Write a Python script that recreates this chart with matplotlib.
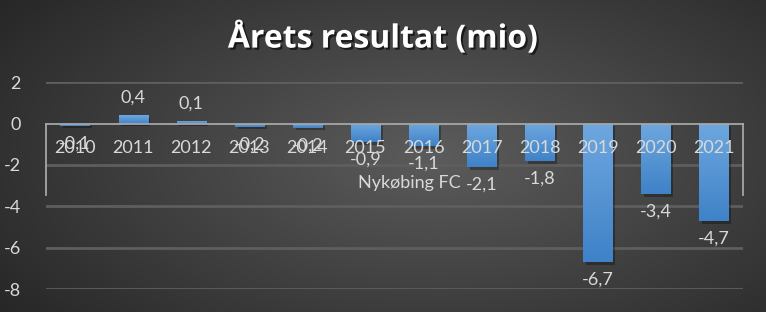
import matplotlib
matplotlib.use("Agg")
import matplotlib.pyplot as plt
import matplotlib.patheffects as pe
import numpy as np

years = ['2010', '2011', '2012', '2013', '2014', '2015', '2016', '2017', '2018', '2019', '2020', '2021']
results = [-0.1, 0.4, 0.1, -0.15, -0.2, -0.9, -1.1, -2.1, -1.8, -6.7, -3.4, -4.7]
# labels as printed on the chart (rounded to one decimal, comma separator)
result_labels = ['-0,1', '0,4', '0,1', '-0,2', '-0,2', '-0,9', '-1,1', '-2,1', '-1,8', '-6,7', '-3,4', '-4,7']
y_ticks = [-8, -6, -4, -2, 0, 2]
series_name = 'Nykøbing FC'

plt.rcParams['font.family'] = ['Lato', 'DejaVu Sans']
plt.rcParams['axes.unicode_minus'] = False

fig = plt.figure(figsize=(7.66, 3.12), dpi=100)

# radial grey background
bg = fig.add_axes([0, 0, 1, 1], zorder=-10)
gx, gy = np.meshgrid(np.linspace(0, 1, 400), np.linspace(0, 1, 200))
r = np.sqrt(((gx - 0.57) / 0.75) ** 2 + ((gy - 0.5) / 0.9) ** 2)
shade = np.clip(0.36 - 0.22 * r, 0.13, 0.36)
bg.imshow(np.dstack([shade] * 3), aspect='auto', extent=[0, 1, 0, 1], origin='lower')
bg.axis('off')

ax = fig.add_axes([0.06, 0.0737, 0.91, 0.663])
ax.patch.set_alpha(0)

x = np.arange(len(years))
bars = ax.bar(x, results, width=0.5, color='#5b9bd5', zorder=3)

# vertical gradient inside each bar
grad = np.linspace(0, 1, 100).reshape(-1, 1)
cmap = matplotlib.colors.LinearSegmentedColormap.from_list('g', ['#3f82c8', '#6ea7df'])
for b in bars:
    b.set_path_effects([pe.SimplePatchShadow(offset=(2, -2), shadow_rgbFace='black', alpha=0.3), pe.Normal()])
    x0, w = b.get_x(), b.get_width()
    y0, h = b.get_y(), b.get_height()
    lo, hi = min(y0, y0 + h), max(y0, y0 + h)
    im = ax.imshow(grad, cmap=cmap, aspect='auto', extent=[x0, x0 + w, lo, hi], origin='lower', zorder=4)
    im.set_clip_path(b)

ax.set_xlim(-0.5, len(years) - 0.5)
ax.set_ylim(-8, 2)
ax.set_yticks(y_ticks)
ax.set_yticklabels([str(t) for t in y_ticks])

for t in y_ticks:
    if t != 0:
        ax.axhline(t, color='#5e5e5e', lw=2, zorder=1)

ax.spines['bottom'].set_position(('data', 0))
ax.spines['bottom'].set_color('#a6a6a6')
ax.spines['bottom'].set_linewidth(1.3)
ax.spines['bottom'].set_zorder(5)
for s in ['top', 'left', 'right']:
    ax.spines[s].set_visible(False)
# short side lines of the category axis box
ax.plot([-0.5, -0.5], [0, -3.45], color='#a6a6a6', lw=1.3, zorder=5, clip_on=False)
ax.plot([len(years) - 0.5] * 2, [0, -3.45], color='#a6a6a6', lw=1.3, zorder=5, clip_on=False)

ax.set_xticks(x)
ax.set_xticklabels(years)
ax.tick_params(axis='x', length=0, pad=12, labelsize=13, labelcolor='#d9d9d9')
ax.tick_params(axis='y', length=0, pad=18, labelsize=13, labelcolor='#d9d9d9')
ax.xaxis.set_zorder(10)

for txt in ax.bar_label(bars, labels=result_labels, padding=7, fontsize=13, color='#d9d9d9'):
    txt.set_zorder(11)

fig.text(0.535, 0.413, series_name, ha='center', va='center', fontsize=13, color='#d9d9d9')

fig.text(0.5, 0.875, 'Årets resultat (mio)', ha='center', va='center', fontsize=23,
         fontweight='bold', color='white', family=['Open Sans', 'DejaVu Sans'],
         path_effects=[pe.SimplePatchShadow(offset=(1.5, -1.5), shadow_rgbFace='black', alpha=0.6), pe.Normal()])

fig.savefig('out.png', dpi=100)
